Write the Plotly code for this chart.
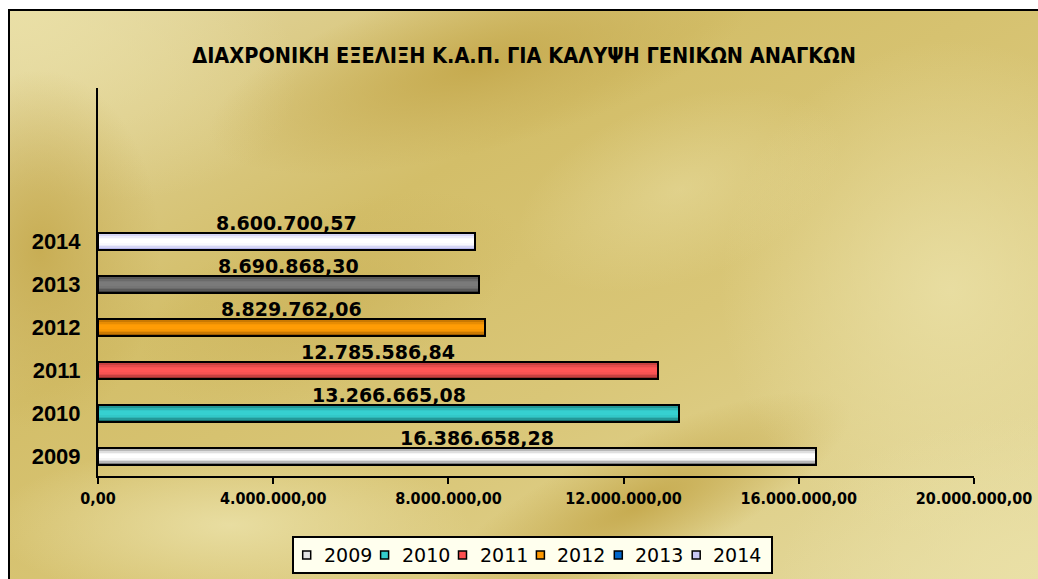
import base64
import plotly.graph_objects as go

# ---- data ----
years = ["2009", "2010", "2011", "2012", "2013", "2014"]
values = [16386658.28, 13266665.08, 12785586.84, 8829762.06, 8690868.30, 8600700.57]
x_ticks = [0, 4000000, 8000000, 12000000, 16000000, 20000000]
title_text = "ΔΙΑΧΡΟΝΙΚΗ ΕΞΕΛΙΞΗ Κ.Α.Π. ΓΙΑ ΚΑΛΥΨΗ ΓΕΝΙΚΩΝ ΑΝΑΓΚΩΝ"

# ---- styles ----
W, H = 1038, 579
M_L, M_R, M_T, M_B = 98, 64, 88, 103
PW, PH = W - M_L - M_R, H - M_T - M_B

# bar shading: (edge colour, centre colour) per year
bar_shades = {
    "2009": ("#7E7E7E", "#FFFFFF"),
    "2010": ("#146A6A", "#36D0D0"),
    "2011": ("#9A3030", "#FF5656"),
    "2012": ("#9E5C00", "#FF9C05"),
    "2013": ("#3C3C3C", "#7A7A7A"),
    "2014": ("#B4B4EC", "#FFFFFF"),
}
legend_colors = {
    "2009": "#E4E4E4", "2010": "#33CCCC", "2011": "#FF5050",
    "2012": "#FF9900", "2013": "#0066CC", "2014": "#C8C8F4",
}
label_xshift = {"2009": 20}
BAR_W = 0.39
LABEL_FONT = dict(family="DejaVu Sans", size=19, color="black", weight="bold")


def gr(val):
    """Greek number format: dot thousands, comma decimals."""
    s = f"{val:,.2f}"
    return s.replace(",", "#").replace(".", ",").replace("#", ".")


def mix(c1, c2, t):
    a = [int(c1[i:i + 2], 16) for i in (1, 3, 5)]
    b = [int(c2[i:i + 2], 16) for i in (1, 3, 5)]
    return "#" + "".join(f"{round(x + (y - x) * t):02X}" for x, y in zip(a, b))


def px_x(px):
    return (px - M_L) / PW


def px_y(py):
    return (H - M_B - py) / PH


# ---- golden textured backdrop (SVG) ----
FX, FY = 9, 10
FW, FH = W - FX, H - FY


def blob(cx, cy, rx, ry, rot, grad, op):
    cx, cy = cx - FX, cy - FY
    return (f'<ellipse cx="{cx}" cy="{cy}" rx="{rx}" ry="{ry}" fill="url(#{grad})" '
            f'opacity="{op}" transform="rotate({rot} {cx} {cy})"/>')


blobs = [
    blob(10, 10, 300, 170, 20, "lt", 0.9),
    blob(480, 65, 280, 85, -15, "dk", 0.95),
    blob(40, 250, 120, 180, 0, "dk", 0.85),
    blob(640, 505, 230, 65, -25, "dk", 0.95),
    blob(330, 300, 200, 90, -20, "dk", 0.45),
    blob(230, 525, 240, 80, 0, "lt", 0.9),
    blob(950, 290, 230, 250, 0, "lt", 0.85),
    blob(1040, 575, 260, 160, 0, "lt", 0.95),
    blob(680, 190, 170, 90, -20, "lt", 0.5),
]
svg = f'''<svg xmlns="http://www.w3.org/2000/svg" width="{FW}" height="{FH}" viewBox="0 0 {FW} {FH}" preserveAspectRatio="none">
<defs>
<linearGradient id="base" x1="0" y1="0" x2="1" y2="1">
<stop offset="0" stop-color="#E4D8A4"/>
<stop offset="0.35" stop-color="#D3BE69"/>
<stop offset="0.6" stop-color="#D9C677"/>
<stop offset="1" stop-color="#E6DCA2"/>
</linearGradient>
<radialGradient id="dk"><stop offset="0" stop-color="#C5A94D" stop-opacity="1"/><stop offset="1" stop-color="#C5A94D" stop-opacity="0"/></radialGradient>
<radialGradient id="lt"><stop offset="0" stop-color="#EAE0A6" stop-opacity="1"/><stop offset="1" stop-color="#EAE0A6" stop-opacity="0"/></radialGradient>
</defs>
<rect x="0" y="0" width="{FW}" height="{FH}" fill="url(#base)"/>
{''.join(blobs)}
</svg>'''
bg_src = "data:image/svg+xml;base64," + base64.b64encode(svg.encode()).decode()

fig = go.Figure()

# ---- shaded bars: stacked layers narrowing towards the centre ----
pos = list(range(len(years)))
layers = [(1.0, 0.0), (0.82, 0.45), (0.62, 0.75), (0.42, 0.92), (0.22, 1.0)]
for wf, t in layers:
    fig.add_trace(go.Bar(
        y=pos, x=values, orientation="h", width=BAR_W * wf,
        marker=dict(color=[mix(*bar_shades[y], t) for y in years], line=dict(width=0)),
        showlegend=False, hoverinfo="skip",
    ))
# outline on top
fig.add_trace(go.Bar(
    y=pos, x=values, orientation="h", width=BAR_W,
    marker=dict(color="rgba(0,0,0,0)", line=dict(color="black", width=2)),
    showlegend=False, customdata=years,
    hovertemplate="%{customdata}: %{x:,.2f}<extra></extra>",
))

annotations = []
for i, (y, v) in enumerate(zip(years, values)):
    annotations.append(dict(
        x=v / 2, y=i, xref="x", yref="y", text=gr(v), showarrow=False,
        yshift=18, xshift=label_xshift.get(y, 0), font=LABEL_FONT,
        xanchor="center", yanchor="middle",
    ))

# ---- chart frame (left and top edges) and hand-drawn legend ----
fx0, fy0 = px_x(FX), px_y(FY)
shapes = [
    dict(type="path", xref="paper", yref="paper",
         path=f"M {fx0},{px_y(H + 20)} L {fx0},{fy0} L {px_x(W + 20)},{fy0}",
         line=dict(color="black", width=2), layer="above"),
    dict(type="rect", xref="paper", yref="paper",
         x0=px_x(293), x1=px_x(772), y0=px_y(573), y1=px_y(537),
         line=dict(color="black", width=2), fillcolor="#FFFFEE", layer="above"),
]
for i, y in enumerate(years):
    sx = 302.7 + 77.9 * i
    shapes.append(dict(type="rect", xref="paper", yref="paper",
                       x0=px_x(sx), x1=px_x(sx + 8), y0=px_y(559), y1=px_y(551),
                       line=dict(color="black", width=1.5), fillcolor=legend_colors[y],
                       layer="above"))
    annotations.append(dict(x=px_x(sx + 19), y=px_y(555), xref="paper", yref="paper",
                            text=y, showarrow=False, xanchor="left", yanchor="middle",
                            font=dict(family="DejaVu Sans", size=19, color="black")))

fig.update_layout(
    width=W, height=H,
    margin=dict(l=M_L, r=M_R, t=M_T, b=M_B, autoexpand=False),
    paper_bgcolor="white", plot_bgcolor="rgba(0,0,0,0)",
    barmode="overlay", bargap=0, showlegend=False,
    title=dict(text=title_text, x=524 / W, xref="container", xanchor="center",
               y=1 - 55 / H, yref="container", yanchor="middle",
               font=dict(family="DejaVu Sans Condensed, DejaVu Sans", size=21.5,
                         color="black", weight="bold")),
    xaxis=dict(range=[0, 20000000], tickvals=x_ticks, ticktext=[gr(v) for v in x_ticks],
               showgrid=False, zeroline=False, showline=True, linecolor="black",
               linewidth=2, ticks="outside", ticklen=6, tickwidth=2, tickcolor="black",
               ticklabelstandoff=1, automargin=False,
               tickfont=dict(family="DejaVu Sans Condensed, DejaVu Sans", size=16,
                             color="black", weight="bold")),
    yaxis=dict(range=[-0.46, 8.56], tickvals=pos, ticktext=years, showgrid=False,
               zeroline=False, showline=True, linecolor="black", linewidth=2, ticks="",
               ticklabelstandoff=11, automargin=False,
               tickfont=dict(family="Liberation Sans, Arial", size=22, color="black",
                             weight="bold")),
    images=[dict(source=bg_src, xref="paper", yref="paper", x=px_x(FX), y=px_y(FY),
                 sizex=FW / PW, sizey=FH / PH, sizing="stretch", xanchor="left",
                 yanchor="top", layer="below")],
    shapes=shapes, annotations=annotations,
)

fig.write_html("out.html")
